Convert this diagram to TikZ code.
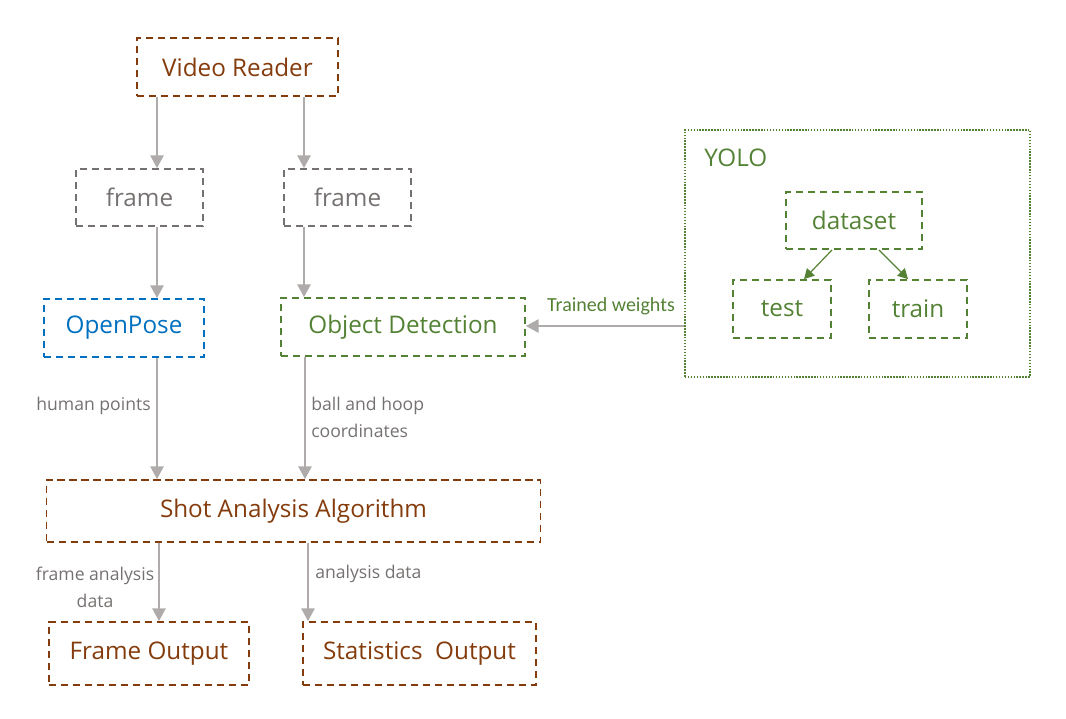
\documentclass[tikz,border=0pt]{standalone}
\usepackage{fontspec}
\setmainfont{Open Sans}
\newfontfamily\calib{Carlito}
\usetikzlibrary{arrows.meta}
\definecolor{brn}{HTML}{843C0C}
\definecolor{gtx}{HTML}{767171}
\definecolor{garr}{HTML}{AFABAB}
\definecolor{grn}{HTML}{548235}
\definecolor{blu}{HTML}{0070C0}
\tikzset{
  box/.style={draw, line width=1.4pt, dash pattern=on 5.5pt off 3.5pt, inner sep=0pt, font=\fontsize{18.2}{21}\selectfont},
  brownbox/.style={box, draw=brn, text=brn},
  graybox/.style={box, draw=gtx, text=gtx},
  arr/.style={draw=garr, line width=1.1pt, -{Triangle[width=10pt,length=9.5pt]}},
  garrow/.style={draw=grn, line width=0.9pt, -{Triangle[width=8pt,length=7.5pt]}},
  lbl/.style={text=gtx, font=\fontsize{13.2}{20.25}\selectfont, inner sep=0pt},
}
\begin{document}
\begin{tikzpicture}[x=0.75pt,y=-0.75pt]
\useasboundingbox (0,0) rectangle (1066,718);
% nodes
\node[brownbox, minimum width=150.75pt, minimum height=43.5pt] (vr) at (237.5,67) {Video Reader};
\node[graybox, minimum width=95.25pt, minimum height=42.75pt] (f1) at (139.5,197.5) {frame};
\node[graybox, minimum width=95.25pt, minimum height=42.75pt] (f2) at (347.5,197.5) {frame};
\node[box, draw=blu, text=blu, minimum width=120pt, minimum height=43.5pt] (op) at (124,328) {OpenPose};
\node[box, draw=grn, text=grn, minimum width=183pt, minimum height=43.5pt] (od) at (403,327) {Object Detection};
\node[draw=grn, line width=1.1pt, dash pattern=on 1.1pt off 1.1pt, minimum width=258.75pt, minimum height=185.25pt, inner sep=0pt] (yolo) at (857.5,253.5) {};
\node[text=grn, font=\fontsize{18.2}{21}\selectfont, anchor=west, inner sep=0pt] (yolot) at (704,158) {YOLO};
\node[box, draw=grn, text=grn, minimum width=102pt, minimum height=42.75pt] (ds) at (854,220.5) {dataset};
\node[box, draw=grn, text=grn, minimum width=73.5pt, minimum height=43.5pt] (te) at (782,309) {test};
\node[box, draw=grn, text=grn, minimum width=73.5pt, minimum height=43.5pt] (tr) at (918,309) {train};
\node[brownbox, minimum width=370.5pt, minimum height=46.5pt] (sa) at (293.5,511) {Shot Analysis Algorithm};
\node[brownbox, minimum width=150pt, minimum height=47.25pt] (fo) at (149,653.5) {Frame Output};
\node[brownbox, minimum width=174.75pt, minimum height=47.25pt] (so) at (419.5,653.5) {Statistics\ \ Output};
% connectors
\draw[arr] (vr.south -| 157,0) -- (f1.north -| 157,0);
\draw[arr] (vr.south -| 304,0) -- (f2.north -| 304,0);
\draw[arr] (f1.south -| 157,0) -- (op.north -| 157,0);
\draw[arr] (f2.south -| 304,0) -- (od.north -| 304,0);
\draw[arr] (op.south -| 157,0) -- (sa.north -| 157,0);
\draw[arr] (od.south -| 305,0) -- (sa.north -| 305,0);
\draw[arr] (sa.south -| 159,0) -- (fo.north -| 159,0);
\draw[arr] (sa.south -| 308,0) -- (so.north -| 308,0);
\draw[arr] (yolo.west |- 0,326) -- (od.east |- 0,326);
\draw[garrow] (ds.south -| 832,0) -- (te.north -| 804,0);
\draw[garrow] (ds.south -| 879,0) -- (tr.north -| 908,0);
% labels
\node[lbl, anchor=east] (l1) at (151,406) {human points};
\node[lbl, anchor=west, align=left] (l2) at (311,417.5) {ball and hoop\\coordinates};
\node[lbl, align=center] (l3) at (95,587.5) {frame analysis\\data};
\node[lbl, anchor=west] (l4) at (315,574) {analysis data};
\node[text=grn, font=\calib\fontsize{15}{17}\selectfont, inner sep=0pt] (l5) at (611,306) {Trained weights};
\end{tikzpicture}
\end{document}
